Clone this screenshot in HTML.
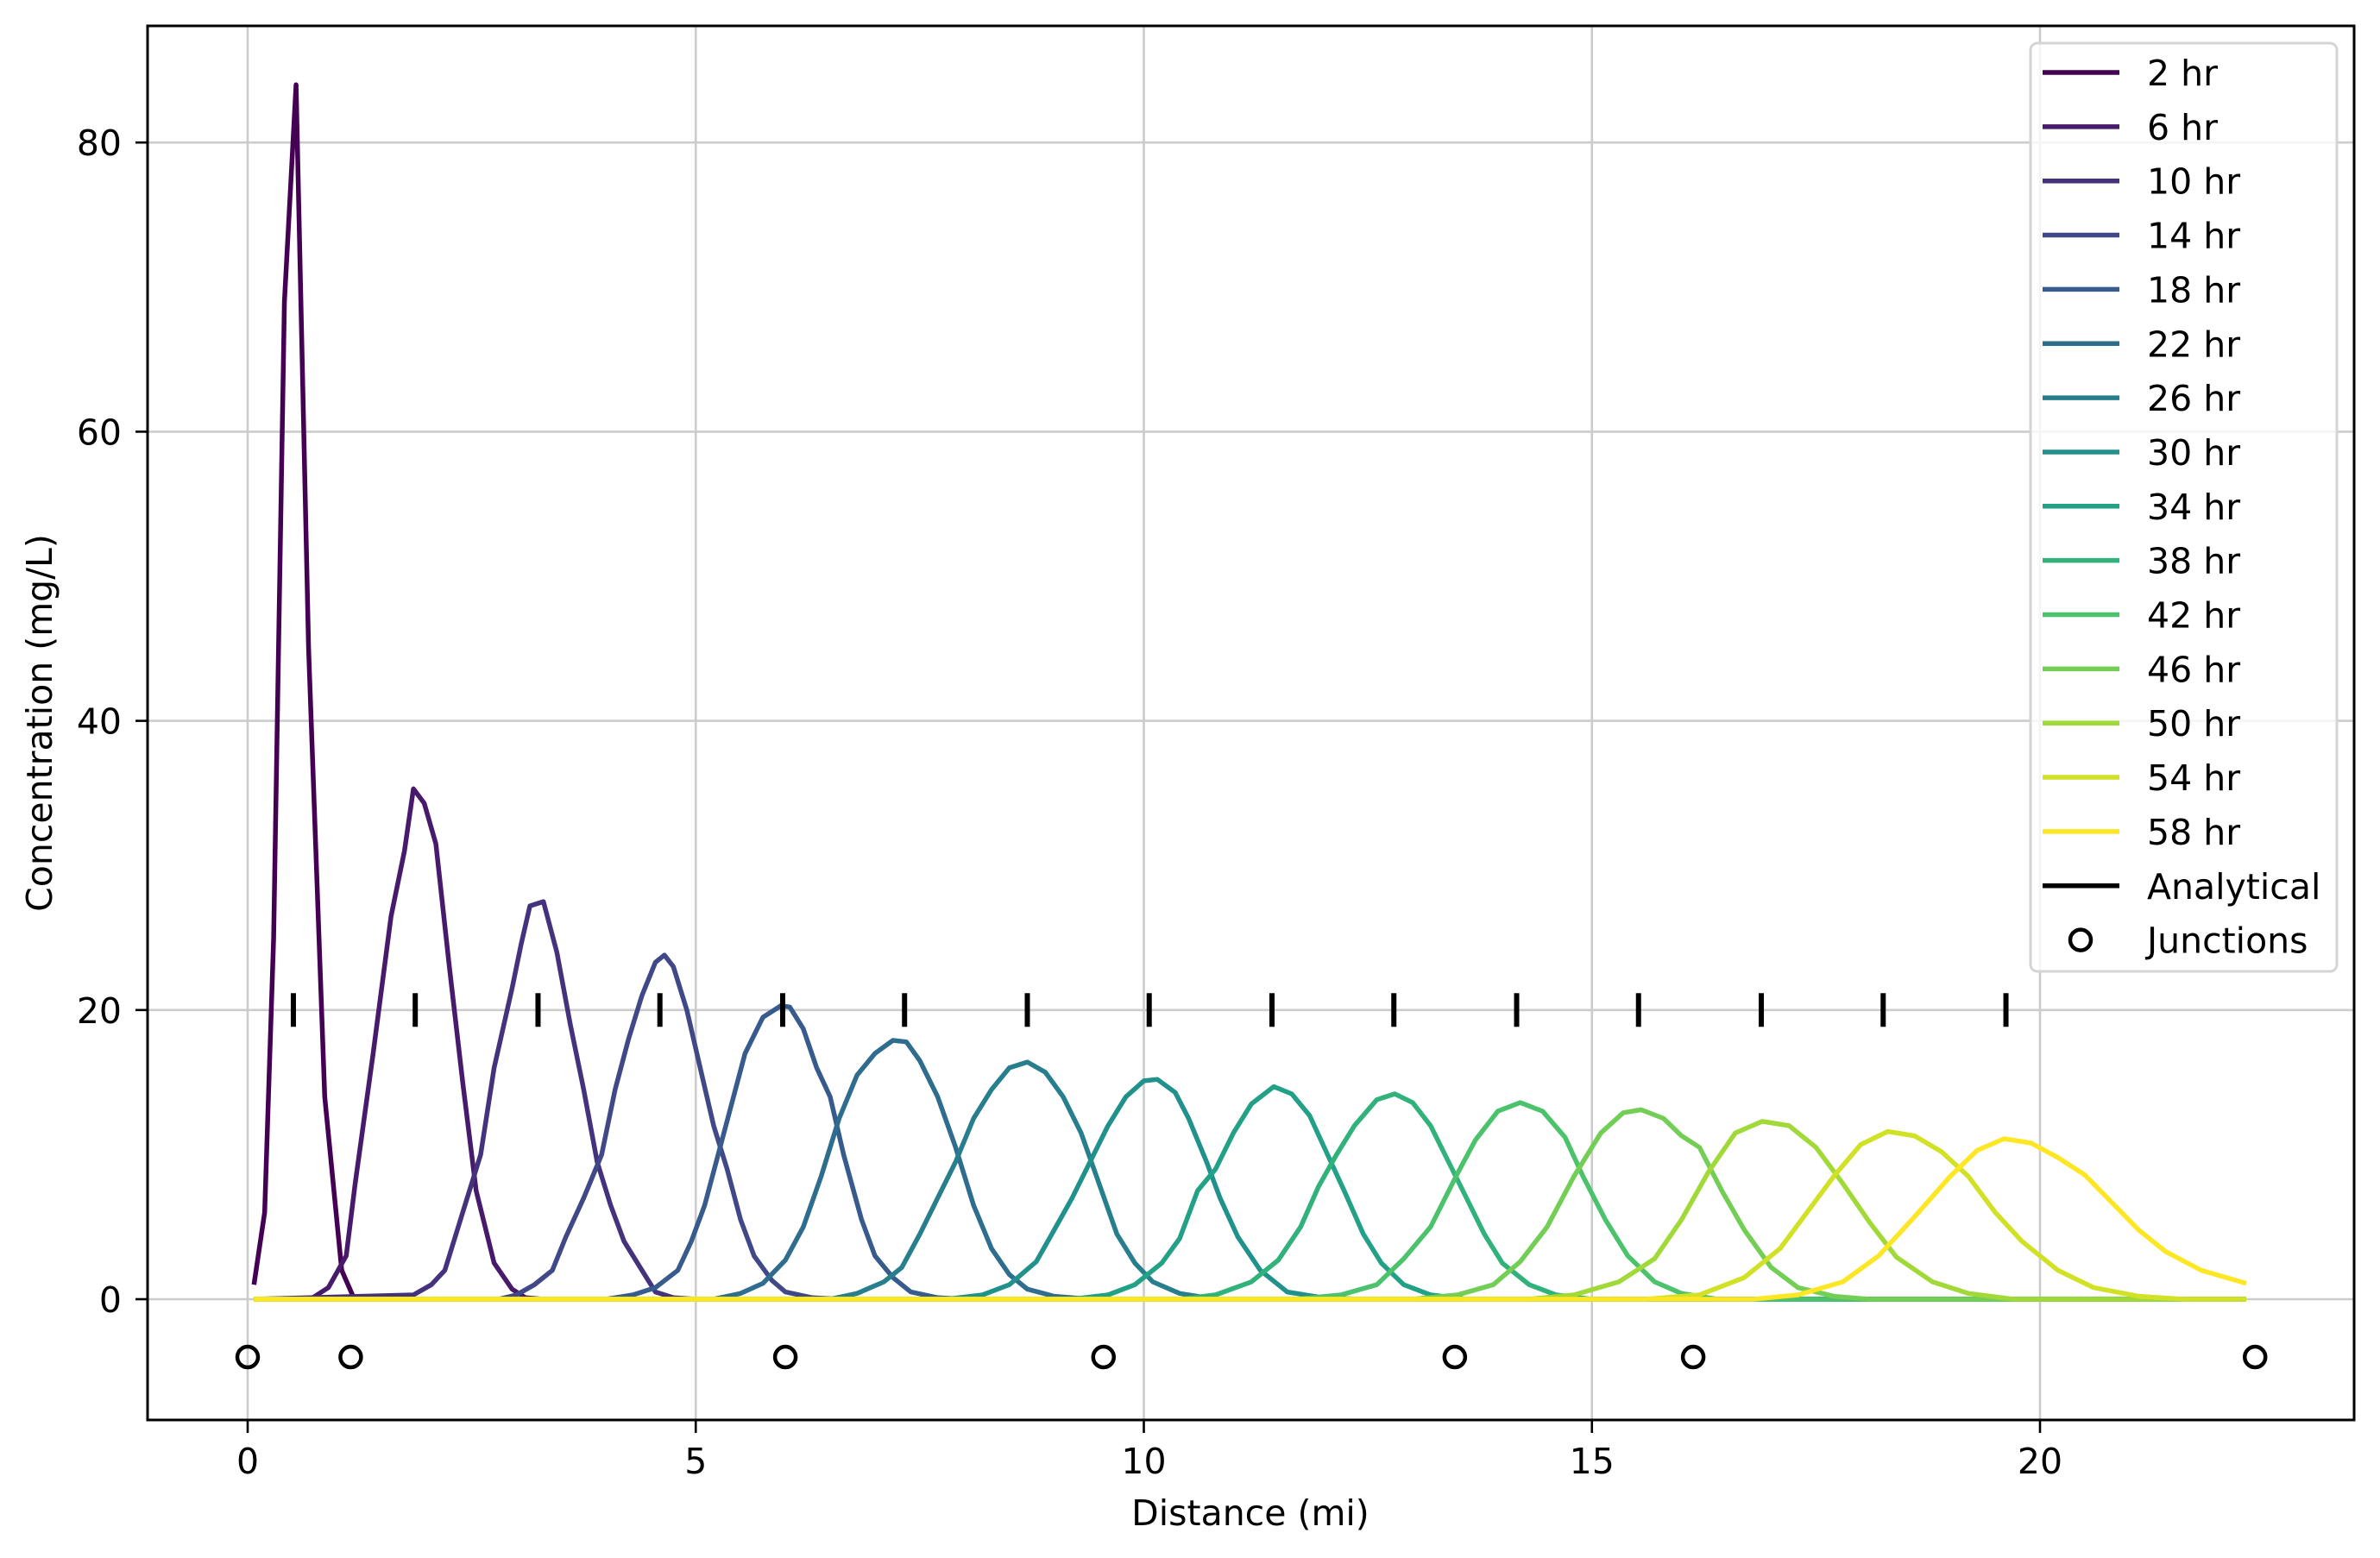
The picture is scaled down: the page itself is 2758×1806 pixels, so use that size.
<!DOCTYPE html>
<html><head><meta charset="utf-8"><style>
html,body{margin:0;padding:0;background:#fff;}
svg{display:block;font-family:"DejaVu Sans","Liberation Sans",sans-serif;}
</style></head><body>
<svg id="chart" width="2758" height="1806" viewBox="0 0 2758 1806" xmlns="http://www.w3.org/2000/svg">
<rect width="2758" height="1806" fill="#fff"/>
<g id="grid"></g>
<g id="series"></g>
<g id="marks"></g>
<rect x="171" y="30" width="2557" height="1616" fill="none" stroke="#000" stroke-width="3"/>
<g id="axes"></g>
<text x="1449" y="1768" font-size="41" text-anchor="middle">Distance (mi)</text>
<text x="0" y="0" font-size="41" text-anchor="middle" transform="translate(60,838) rotate(-90)">Concentration (mg/L)</text>
<g id="legend"></g>
</svg>
<script>
const seriesLabels=["2 hr","6 hr","10 hr","14 hr","18 hr","22 hr","26 hr","30 hr","34 hr","38 hr","42 hr","46 hr","50 hr","54 hr","58 hr"];
const seriesColors=["#440154","#471a6b","#45327d","#404888","#375b8d","#2f6d8e","#277f8d","#21918c","#22a186","#31b27b","#4cc26c","#72ce55","#a0d938","#d0e126","#fde725"];
const xs0=[0.07,0.19,0.29,0.41,0.54,0.68,0.86,1.05,1.19,22.3];
const ys0=[1,6,25,69,84,45,14,2,0,0];
const xs1=[0.07,0.7,0.9,1.1,1.2,1.4,1.6,1.75,1.85,1.97,2.1,2.25,2.4,2.55,2.75,2.95,3.1,3.3,22.3];
const ys1=[0,0,0.8,3,8,17,26.5,31,35.3,34.3,31.5,23,15,7.5,2.5,0.7,0.1,0,0];
const xs2=[0.07,1.85,2.05,2.2,2.4,2.6,2.75,2.95,3.05,3.15,3.3,3.45,3.6,3.75,3.9,4.05,4.2,4.4,4.55,4.75,5,22.3];
const ys2=[0,0.3,1,2,6,10,16,21.5,24.5,27.2,27.5,24,19,14.5,9.5,6.5,4,2,0.5,0.1,0,0];
const xs3=[0.07,2.8,3.0,3.2,3.4,3.55,3.75,3.95,4.1,4.25,4.4,4.55,4.65,4.75,4.9,5.05,5.2,5.35,5.5,5.65,5.85,6.0,6.3,6.6,22.3];
const ys3=[0,0,0.3,1,2,4.3,7,10,14.5,18,21,23.3,23.8,23,20,16,12,9,5.5,3,1.3,0.5,0.1,0,0];
const xs4=[0.07,4.0,4.3,4.55,4.8,4.95,5.1,5.25,5.4,5.55,5.75,5.95,6.05,6.2,6.35,6.5,6.65,6.85,7.0,7.2,7.4,7.7,8,22.3];
const ys4=[0,0,0.3,0.8,2,4,6.5,10,13.5,17,19.5,20.3,20.2,18.7,16,14,10,5.5,3,1.5,0.5,0.1,0,0];
const xs5=[0.07,5.2,5.5,5.75,6.0,6.2,6.4,6.6,6.8,7.0,7.2,7.35,7.5,7.7,7.9,8.1,8.3,8.5,8.7,9.0,9.4,22.3];
const ys5=[0,0,0.4,1.1,2.7,5,8.5,12.5,15.5,17,17.9,17.8,16.5,14,10.5,6.5,3.5,1.7,0.7,0.2,0,0];
const xs6=[0.07,6.5,6.8,7.1,7.3,7.5,7.7,7.9,8.1,8.3,8.5,8.7,8.9,9.1,9.3,9.5,9.7,9.9,10.1,10.4,10.8,22.3];
const ys6=[0,0,0.4,1.2,2.2,4.5,7,9.5,12.5,14.5,16,16.4,15.7,14,11.5,8,4.5,2.5,1.2,0.4,0,0];
const xs7=[0.07,7.8,8.2,8.5,8.8,9.0,9.2,9.4,9.6,9.8,10.0,10.15,10.35,10.5,10.7,10.85,11.05,11.3,11.6,12.0,12.4,22.3];
const ys7=[0,0,0.3,1,2.6,4.8,7,9.5,12,14,15.1,15.2,14.3,12.5,9.5,7,4.3,2,0.5,0.1,0,0];
const xs8=[0.07,9.2,9.6,9.9,10.2,10.4,10.6,10.8,11.0,11.2,11.45,11.65,11.85,12.05,12.25,12.45,12.65,12.9,13.2,13.6,22.3];
const ys8=[0,0,0.3,1,2.5,4.2,7.5,9,11.5,13.5,14.7,14.2,12.7,10,7.3,4.5,2.5,1,0.3,0,0];
const xs9=[0.07,10.4,10.8,11.2,11.5,11.75,11.95,12.15,12.35,12.6,12.8,13.0,13.2,13.4,13.6,13.8,14.0,14.3,14.6,15,22.3];
const ys9=[0,0,0.3,1.2,2.7,5,7.8,10,12,13.8,14.2,13.6,12,9.5,7,4.5,2.5,1,0.3,0,0];
const xs10=[0.07,11.7,12.2,12.6,12.9,13.2,13.5,13.7,13.95,14.2,14.45,14.7,14.9,15.15,15.4,15.7,16.0,16.4,22.3];
const ys10=[0,0,0.3,1,2.8,5,8.7,11,13,13.6,13,11.2,8.5,5.5,3,1.2,0.4,0,0];
const xs11=[0.07,13.0,13.5,13.9,14.2,14.5,14.8,15.1,15.35,15.55,15.8,16.0,16.2,16.45,16.7,17.0,17.3,17.7,18.1,22.3];
const ys11=[0,0,0.3,1,2.6,5,8.5,11.5,12.9,13.1,12.5,11.3,10.5,7.5,4.8,2.2,0.8,0.2,0,0];
const xs12=[0.07,14.3,14.8,15.3,15.7,16.0,16.3,16.6,16.9,17.2,17.5,17.8,18.1,18.4,18.8,19.2,19.7,22.3];
const ys12=[0,0,0.3,1.2,2.8,5.5,8.8,11.5,12.3,12,10.5,8,5.3,2.9,1.2,0.4,0,0];
const xs13=[0.07,15.6,16.2,16.7,17.1,17.4,17.7,18.0,18.3,18.6,18.9,19.2,19.5,19.8,20.2,20.6,21.1,21.6,22.3];
const ys13=[0,0,0.3,1.5,3.5,6,8.5,10.7,11.6,11.3,10.2,8.5,6,4,2,0.8,0.2,0,0];
const xs14=[0.07,16.8,17.3,17.8,18.2,18.6,19.0,19.3,19.6,19.9,20.2,20.5,20.8,21.1,21.4,21.8,22.3];
const ys14=[0,0,0.3,1.2,3,5.7,8.5,10.3,11.1,10.8,9.8,8.6,6.7,4.8,3.3,2,1.1];
const seriesX=[xs0,xs1,xs2,xs3,xs4,xs5,xs6,xs7,xs8,xs9,xs10,xs11,xs12,xs13,xs14];
const seriesY=[ys0,ys1,ys2,ys3,ys4,ys5,ys6,ys7,ys8,ys9,ys10,ys11,ys12,ys13,ys14];
const analyticalX=[0.51,1.87,3.24,4.6,5.97,7.33,8.7,10.06,11.43,12.79,14.16,15.52,16.89,18.25,19.62];
const analyticalY=[20,20,20,20,20,20,20,20,20,20,20,20,20,20,20];
const junctionX=[0,1.15,6.0,9.55,13.47,16.13,22.4];
const junctionY=[-4,-4,-4,-4,-4,-4,-4];
const xTicks=[0,5,10,15,20];
const yTicks=[0,20,40,60,80];

const NS="http://www.w3.org/2000/svg";
const X0=287, XS=103.85, Y0=1506, YS=16.76;
function sx(v){return X0+v*XS;}
function sy(v){return Y0-v*YS;}
function mk(tag,attrs,parent){const e=document.createElementNS(NS,tag);for(const k in attrs)e.setAttribute(k,attrs[k]);parent.appendChild(e);return e;}
const grid=document.getElementById('grid'),axes=document.getElementById('axes');
xTicks.forEach(t=>{
  const g=mk('line',{x1:sx(t),x2:sx(t),y1:30,y2:1646,stroke:'#cccccc','stroke-width':2.6},grid);
  
  
  const tk=mk('line',{x1:sx(t),x2:sx(t),y1:1646,y2:1661,stroke:'#000','stroke-width':2.6},axes);
  
  
  const tx=mk('text',{x:sx(t),y:1708,'font-size':41,'text-anchor':'middle'},axes);
  tx.textContent=t;
  
  
});
yTicks.forEach(t=>{
  const g=mk('line',{x1:171,x2:2728,y1:sy(t),y2:sy(t),stroke:'#cccccc','stroke-width':2.6},grid);
  
  
  const tk=mk('line',{x1:157,x2:171,y1:sy(t),y2:sy(t),stroke:'#000','stroke-width':2.6},axes);
  
  
  const tx=mk('text',{x:141,y:sy(t)+15,'font-size':41,'text-anchor':'end'},axes);
  tx.textContent=t;
  
  
});
const sg=document.getElementById('series');
seriesX.forEach((xs,i)=>{
  const pts=xs.map((x,j)=>sx(x).toFixed(1)+','+sy(seriesY[i][j]).toFixed(1)).join(' ');
  const p=mk('polyline',{points:pts,fill:'none',stroke:seriesColors[i],'stroke-width':5.5,'stroke-linejoin':'round'},sg);
  
  
});
const mg=document.getElementById('marks');
analyticalX.forEach((x,i)=>{
  const l=mk('line',{x1:sx(x),x2:sx(x),y1:sy(analyticalY[i])-19.5,y2:sy(analyticalY[i])+19.5,stroke:'#000','stroke-width':6},mg);
  
  
});
junctionX.forEach((x,i)=>{
  const c=mk('circle',{cx:sx(x),cy:sy(junctionY[i]),r:12,fill:'none',stroke:'#000','stroke-width':4.5},mg);
  
  
});
const lg=document.getElementById('legend');
const box=mk('rect',{x:2353,y:50,width:355,height:1076,rx:8,fill:'#fff','fill-opacity':0.8,stroke:'#d5d5d5','stroke-width':3},lg);


const labels=seriesLabels.concat(['Analytical','Junctions']);
labels.forEach((lab,i)=>{
  const y=84+i*62.85;
  if(i<16){
    const l=mk('line',{x1:2367,x2:2456,y1:y,y2:y,stroke:i<15?seriesColors[i]:'#000','stroke-width':5.5},lg);
    
    
  } else {
    const c=mk('circle',{cx:2411,cy:y,r:12,fill:'none',stroke:'#000','stroke-width':4.5},lg);
    
    
  }
  const t=mk('text',{x:2488,y:y+15,'font-size':41},lg);
  t.textContent=lab;
  
  
});
</script>
</body></html>
